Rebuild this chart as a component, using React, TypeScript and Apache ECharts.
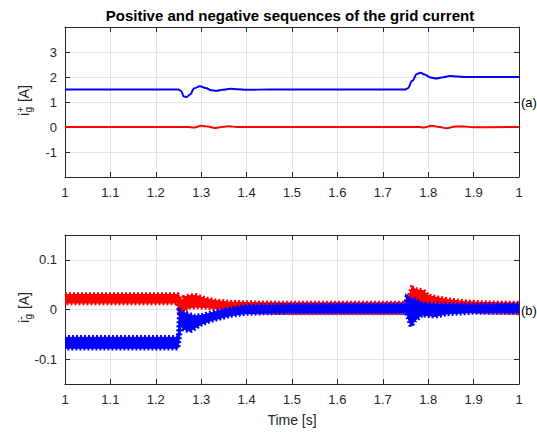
import React, { useEffect, useRef } from 'react';
import * as echarts from 'echarts';

const FONT = '"Liberation Sans", Arial, Helvetica, sans-serif';
const INK = '#262626';
const GRID = '#e3e3e3';

const titleText = 'Positive and negative sequences of the grid current';
const xAxisTitle = 'Time [s]';
const xTickValues = [1, 1.1, 1.2, 1.3, 1.4, 1.5, 1.6, 1.7, 1.8, 1.9, 2];
const xTickLabels = ['1', '1.1', '1.2', '1.3', '1.4', '1.5', '1.6', '1.7', '1.8', '1.9', '1'];
const topYTicks = [-1, 0, 1, 2, 3];
const bottomYTicks = [-0.1, 0, 0.1];

// (a) positive sequence, blue
const posBlueT = [1.0, 1.25, 1.255, 1.262, 1.268, 1.275, 1.285, 1.297, 1.31, 1.322, 1.334, 1.348, 1.365, 1.38, 1.4, 1.45, 1.75, 1.755, 1.765, 1.775, 1.783, 1.792, 1.805, 1.818, 1.83, 1.848, 1.865, 1.88, 2.0];
const posBlueV = [1.5, 1.5, 1.45, 1.22, 1.2, 1.3, 1.55, 1.63, 1.56, 1.47, 1.45, 1.49, 1.53, 1.51, 1.49, 1.5, 1.5, 1.55, 1.85, 2.12, 2.17, 2.1, 1.98, 1.94, 1.98, 2.04, 2.02, 2.0, 2.0];
// (a) positive sequence, red
const posRedT = [1.0, 1.27, 1.285, 1.3, 1.315, 1.33, 1.345, 1.36, 1.38, 1.4, 1.78, 1.79, 1.808, 1.825, 1.84, 1.86, 1.88, 1.9, 2.0];
const posRedV = [0, 0, -0.02, 0.05, 0.02, -0.04, 0.0, 0.03, 0.0, 0, 0, -0.02, 0.05, 0, -0.05, 0.02, 0.02, -0.01, 0];

// (b) negative sequence, red envelope
const negRedT = [1.0, 1.248, 1.252, 1.256, 1.262, 1.275, 1.29, 1.31, 1.33, 1.36, 1.4, 1.5, 1.6, 1.7, 1.75, 1.758, 1.764, 1.775, 1.789, 1.8, 1.82, 1.85, 1.88, 1.92, 2.0];
const negRedLo = [0.013, 0.013, -0.012, -0.01, -0.002, 0.004, 0.005, 0.004, 0.002, -0.001, -0.005, -0.007, -0.007, -0.007, -0.007, 0.0, 0.006, 0.006, 0.008, 0.008, 0.005, 0.001, -0.002, -0.005, -0.007];
const negRedHi = [0.03, 0.03, 0.028, 0.013, 0.025, 0.028, 0.028, 0.022, 0.018, 0.015, 0.014, 0.013, 0.013, 0.013, 0.013, 0.028, 0.044, 0.04, 0.038, 0.028, 0.024, 0.019, 0.016, 0.014, 0.013];
// (b) negative sequence, blue envelope
const negBlueT = [1.0, 1.249, 1.252, 1.256, 1.262, 1.275, 1.286, 1.3, 1.32, 1.341, 1.367, 1.4, 1.5, 1.75, 1.753, 1.762, 1.771, 1.786, 1.815, 1.84, 1.9, 2.0];
const negBlueLo = [-0.078, -0.078, -0.058, -0.033, -0.04, -0.044, -0.038, -0.03, -0.023, -0.018, -0.012, -0.008, -0.006, -0.006, -0.01, -0.034, -0.022, -0.011, -0.014, -0.009, -0.006, -0.006];
const negBlueHi = [-0.056, -0.056, -0.002, -0.004, -0.006, -0.01, -0.013, -0.012, -0.007, -0.002, 0.002, 0.007, 0.009, 0.01, 0.025, 0.02, 0.02, 0.012, 0.01, 0.01, 0.009, 0.01];

const RED = '#ff0000';
const BLUE = '#0000ff';

function xLabel(v: number) {
  const i = xTickValues.findIndex((t) => Math.abs(t - v) < 1e-6);
  return i >= 0 ? xTickLabels[i] : '';
}

function yLabelGroup(y: number, sup: string) {
  return {
    type: 'group',
    x: 24,
    y,
    rotation: Math.PI / 2,
    silent: true,
    children: [
      { type: 'text', x: -15, y: 0, style: { text: 'i', font: `14px ${FONT}`, fill: INK, align: 'left', verticalAlign: 'middle' } },
      { type: 'text', x: -11.5, y: -3.5, style: { text: sup, font: `10px ${FONT}`, fill: INK, align: 'left', verticalAlign: 'middle' } },
      { type: 'text', x: -11.5, y: 4.5, style: { text: 'g', font: `10px ${FONT}`, fill: INK, align: 'left', verticalAlign: 'middle' } },
      { type: 'text', x: -5, y: 0, style: { text: ' [A]', font: `14px ${FONT}`, fill: INK, align: 'left', verticalAlign: 'middle' } },
    ],
  };
}

export default function App() {
  const ref = useRef<HTMLDivElement>(null);
  useEffect(() => {
    document.body.style.margin = '0';
    if (!ref.current) return;
    const chart = echarts.init(ref.current, undefined, { renderer: 'svg' });

    const xBase = (gridIndex: number, pos: 'top' | 'bottom') => ({
      type: 'value',
      gridIndex,
      position: pos,
      min: 1,
      max: 2,
      interval: 0.1,
      axisLine: { show: true, onZero: false, lineStyle: { color: INK, width: 1 } },
      axisTick: { show: true, inside: true, length: 5, lineStyle: { color: INK } },
      axisLabel: pos === 'bottom'
        ? { show: true, margin: 9, color: INK, fontSize: 13, fontFamily: FONT, formatter: xLabel, showMinLabel: true, showMaxLabel: true }
        : { show: false },
      splitLine: { show: pos === 'bottom', lineStyle: { color: GRID, width: 1 } },
    });

    const topY = (pos: 'left' | 'right') => ({
      type: 'value',
      gridIndex: 0,
      position: pos,
      min: -2,
      max: 4,
      interval: 1,
      axisLine: { show: true, onZero: false, lineStyle: { color: INK, width: 1 } },
      axisTick: { show: true, inside: true, length: 5, lineStyle: { color: INK } },
      axisLabel: pos === 'left'
        ? { show: true, margin: 8, color: INK, fontSize: 13, fontFamily: FONT, formatter: (v: number) => (topYTicks.includes(v) ? String(v) : '') }
        : { show: false },
      splitLine: { show: pos === 'left', lineStyle: { color: GRID, width: 1 } },
    });

    const botY = (pos: 'left' | 'right') => ({
      type: 'value',
      gridIndex: 1,
      position: pos,
      min: -0.15,
      max: 0.15,
      axisLine: { show: true, onZero: false, lineStyle: { color: INK, width: 1 } },
      axisTick: { show: true, inside: true, length: 5, lineStyle: { color: INK }, customValues: bottomYTicks },
      axisLabel: pos === 'left'
        ? { show: true, margin: 8, color: INK, fontSize: 13, fontFamily: FONT, customValues: bottomYTicks, formatter: (v: number) => (Math.abs(v) < 1e-9 ? '0' : String(Math.round(v * 100) / 100)) }
        : { show: false, customValues: bottomYTicks },
      splitLine: { show: pos === 'left', lineStyle: { color: GRID, width: 1 } },
    });

    const line = (name: string, t: number[], v: number[], color: string) => ({
      type: 'line',
      name,
      xAxisIndex: 0,
      yAxisIndex: 0,
      data: t.map((x, i) => [x, v[i]]),
      symbol: 'none',
      smooth: 0.4,
      smoothMonotone: 'x',
      lineStyle: { color, width: 2 },
      itemStyle: { color },
      silent: true,
    });

    const band = (name: string, t: number[], lo: number[], hi: number[], color: string, dashOffset: number) => ({
      type: 'custom',
      name,
      xAxisIndex: 2,
      yAxisIndex: 2,
      data: t.map((x, i) => [x, lo[i], hi[i]]),
      encode: { x: 0, y: [1, 2] },
      clip: true,
      silent: true,
      renderItem: (params: any, api: any) => {
        if (params.dataIndex !== 0) return null;
        const upper = t.map((x, i) => api.coord([x, hi[i]]));
        const lower = t.map((x, i) => api.coord([x, lo[i]])).reverse();
        const pts = [...upper, ...lower];
        return {
          type: 'group',
          children: [
            {
              type: 'polygon',
              shape: { points: pts },
              style: { fill: color, stroke: color, lineWidth: 1, lineJoin: 'round' },
            },
            {
              type: 'polygon',
              shape: { points: pts },
              style: { fill: 'none', stroke: color, lineWidth: 4.5, lineDash: [2, 2], lineDashOffset: dashOffset, lineJoin: 'miter' },
            },
          ],
        };
      },
    });

    chart.setOption({
      animation: false,
      backgroundColor: '#ffffff',
      grid: [
        { left: 65, top: 27, width: 454, height: 150, show: false },
        { left: 65, top: 235, width: 454, height: 149, show: false },
      ],
      xAxis: [xBase(0, 'bottom'), xBase(0, 'top'), xBase(1, 'bottom'), xBase(1, 'top')],
      yAxis: [topY('left'), topY('right'), botY('left'), botY('right')],
      series: [
        line('posRed', posRedT, posRedV, RED),
        line('posBlue', posBlueT, posBlueV, BLUE),
        band('negRed', negRedT, negRedLo, negRedHi, RED, 0),
        band('negBlue', negBlueT, negBlueLo, negBlueHi, BLUE, 1),
      ],
      graphic: [
        { type: 'text', x: 290, y: 15, silent: true, style: { text: titleText, font: `bold 15px ${FONT}`, fill: '#000', align: 'center', verticalAlign: 'middle' } },
        { type: 'text', x: 292, y: 420, silent: true, style: { text: xAxisTitle, font: `14px ${FONT}`, fill: INK, align: 'center', verticalAlign: 'middle' } },
        { type: 'text', x: 521, y: 102, silent: true, style: { text: '(a)', font: `13px ${FONT}`, fill: '#000', align: 'left', verticalAlign: 'middle' } },
        { type: 'text', x: 521, y: 310, silent: true, style: { text: '(b)', font: `13px ${FONT}`, fill: '#000', align: 'left', verticalAlign: 'middle' } },
        yLabelGroup(101, '+'),
        yLabelGroup(308, '-'),
      ],
    });
    return () => chart.dispose();
  }, []);
  return <div ref={ref} style={{ width: 537, height: 432 }} />;
}
